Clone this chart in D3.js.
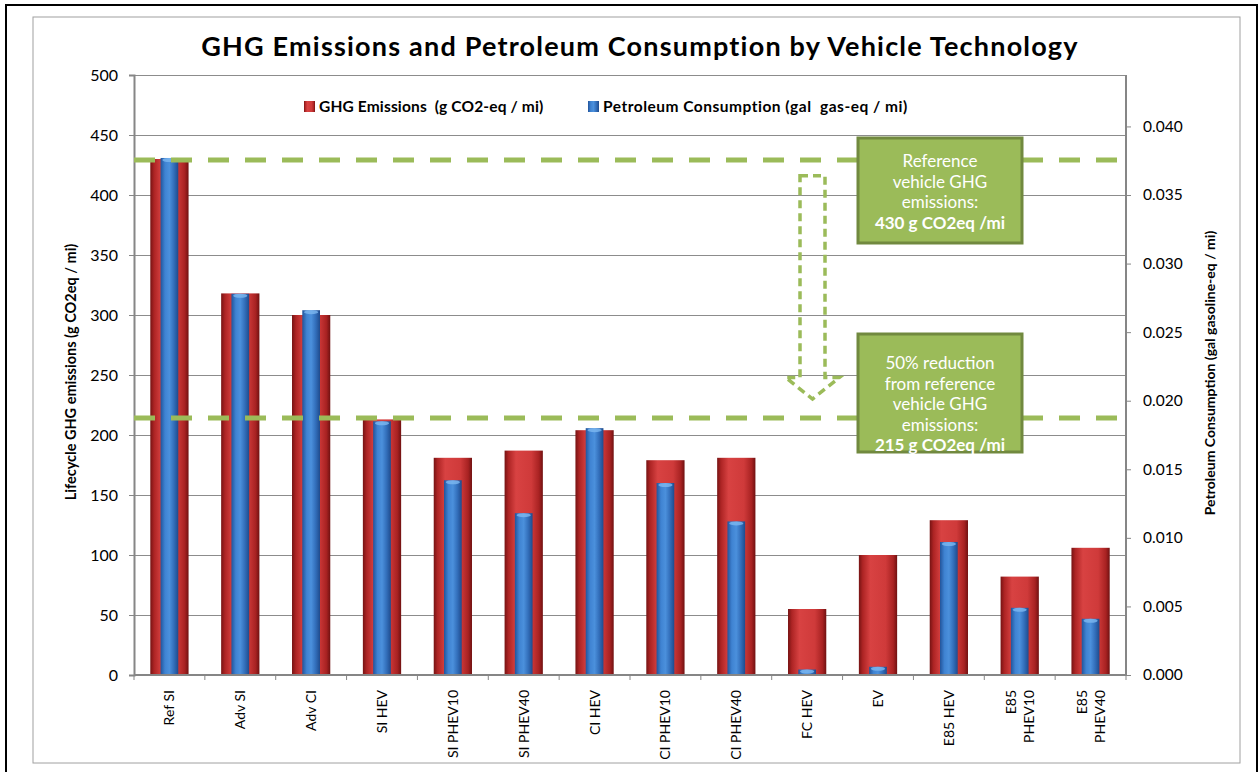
<!DOCTYPE html>
<html>
<head>
<meta charset="utf-8">
<script src="https://cdn.jsdelivr.net/npm/d3@7"></script>
<style>
	body{margin:0;background:#fff}
	text{font-family:Lato,"Open Sans",sans-serif}
</style>
</head>
<body>
<svg id="chart"></svg>
<script>
// chart data
const categories = ['Ref SI','Adv SI','Adv CI','SI HEV','SI PHEV10','SI PHEV40','CI HEV','CI PHEV10','CI PHEV40','FC HEV','EV','E85 HEV','E85 PHEV10','E85 PHEV40']
const tick_labels = [['Ref SI'],['Adv SI'],['Adv CI'],['SI HEV'],['SI PHEV10'],['SI PHEV40'],['CI HEV'],['CI PHEV10'],['CI PHEV40'],['FC HEV'],['EV'],['E85 HEV'],['E85','PHEV10'],['E85','PHEV40']]
const ghg = [430,318,300,213,181,187,204,179,181,55,100,129,82,106]
const petroleum = [0.0377,0.0278,0.0266,0.0185,0.0142,0.0118,0.0180,0.0140,0.0112,0.0004,0.0006,0.0097,0.0049,0.0041]
const left_ticks = [0,50,100,150,200,250,300,350,400,450,500]
const right_ticks = [0,0.005,0.010,0.015,0.020,0.025,0.030,0.035,0.040]
const ref_lines = [430,215]

const _width = 1259
const _height = 772
const plot = {left:134,right:1126,top:75,bottom:675}

const svg = d3.select('#chart')
	.attr('width',_width)
	.attr('height',_height)

// gradients for the cylinder look
const defs = svg.append('defs')
const grad = (id,stops)=>{
	const g = defs.append('linearGradient').attr('id',id)
		.attr('x1','0%').attr('x2','100%').attr('y1','0%').attr('y2','0%')
	stops.forEach(s=>g.append('stop').attr('offset',s[0]).attr('stop-color',s[1]))
}
grad('red_g',[[0,'#761313'],[0.1,'#ad2424'],[0.3,'#d84242'],[0.7,'#cf3a3a'],[0.9,'#a82222'],[1,'#701111']])
grad('blue_g',[[0,'#22549b'],[0.25,'#3f83d2'],[0.5,'#4b90dc'],[0.75,'#336fbb'],[1,'#1f4b8d']])

// frames
svg.append('rect').attr('x',6).attr('y',5).attr('width',1251).attr('height',780)
	.attr('fill','#fff').attr('stroke','#000').attr('stroke-width',2)
svg.append('rect').attr('x',33).attr('y',17).attr('width',1207).attr('height',746)
	.attr('fill','none').attr('stroke','#a0a0a0').attr('stroke-width',1)

// title
svg.append('text')
	.attr('x',640).attr('y',56)
	.attr('text-anchor','middle')
	.attr('font-size',27).attr('font-weight','bold')
	.attr('letter-spacing',1.2)
	.text('GHG Emissions and Petroleum Consumption by Vehicle Technology')

const x = d3.scaleBand().domain(categories).range([plot.left,plot.right])
const yL = d3.scaleLinear().domain([0,500]).range([plot.bottom,plot.top])
const yR = d3.scaleLinear().domain([0,0.04375]).range([plot.bottom,plot.top])
const bw = x.bandwidth()

// gridlines
svg.append('g')
	.selectAll('line')
	.data(left_ticks)
	.enter()
	.append('line')
	.attr('x1',plot.left).attr('x2',plot.right)
	.attr('y1',d=>yL(d)+0.5).attr('y2',d=>yL(d)+0.5)
	.attr('stroke','#8c8c8c').attr('stroke-width',1)

// left axis
const axL = svg.append('g')
	.attr('transform',`translate(${plot.left},0)`)
	.call(d3.axisLeft(yL).tickValues(left_ticks).tickSize(5).tickPadding(11))
axL.select('.domain').attr('stroke','#868686').attr('stroke-width',2)
axL.selectAll('.tick line').attr('stroke','#868686')
axL.selectAll('text').attr('font-size',16).attr('font-family','Lato').attr('fill','#000')

// right axis
const axR = svg.append('g')
	.attr('transform',`translate(${plot.right},0)`)
	.call(d3.axisRight(yR).tickValues(right_ticks).tickFormat(d3.format('.3f')).tickSize(5).tickPadding(12))
axR.select('.domain').attr('stroke','#868686').attr('stroke-width',2)
	.attr('d',`M0,${plot.top}V${plot.bottom}`)
axR.selectAll('.tick line').attr('stroke','#868686')
axR.selectAll('text').attr('font-size',15.5).attr('font-family','Lato').attr('fill','#000')

// bars
const idx = d3.range(categories.length)
svg.append('g')
	.selectAll('rect')
	.data(idx)
	.enter()
	.append('rect')
	.attr('x',i=>x(categories[i])+bw/2-bw*0.27)
	.attr('width',bw*0.54)
	.attr('y',i=>yL(ghg[i]))
	.attr('height',i=>yL(0)-yL(ghg[i]))
	.attr('fill','url(#red_g)')

const blue = svg.append('g')
	.selectAll('g')
	.data(idx)
	.enter()
	.append('g')
blue.append('rect')
	.attr('x',i=>x(categories[i])+bw/2-bw*0.125)
	.attr('width',bw*0.25)
	.attr('y',i=>yR(petroleum[i]))
	.attr('height',i=>yR(0)-yR(petroleum[i]))
	.attr('fill','url(#blue_g)')
blue.append('ellipse')
	.attr('cx',i=>x(categories[i])+bw/2)
	.attr('cy',i=>yR(petroleum[i])+2)
	.attr('rx',bw*0.1)
	.attr('ry',2)
	.attr('fill','#7db8f0')
	.attr('opacity',0.8)

// bottom axis
svg.append('line')
	.attr('x1',plot.left).attr('x2',plot.right)
	.attr('y1',plot.bottom).attr('y2',plot.bottom)
	.attr('stroke','#868686').attr('stroke-width',2)
svg.append('g')
	.selectAll('line')
	.data(categories.concat(['__end']))
	.enter()
	.append('line')
	.attr('x1',d=>d=='__end' ? plot.right : x(d))
	.attr('x2',d=>d=='__end' ? plot.right : x(d))
	.attr('y1',plot.bottom).attr('y2',plot.bottom+5)
	.attr('stroke','#868686')

const labels = svg.append('g')
	.selectAll('text')
	.data(idx)
	.enter()
	.append('text')
	.attr('transform',i=>`translate(${x(categories[i])+bw/2},690) rotate(-90)`)
	.attr('text-anchor','end')
	.attr('font-size',14)
labels.each(function(i){
	const lines = tick_labels[i]
	const t = d3.select(this)
	lines.forEach((l,j)=>{
		t.append('tspan')
			.attr('x',0)
			.attr('y',(j - (lines.length-1)/2)*18 + 5)
			.text(l)
	})
})

// axis titles
svg.append('text')
	.attr('transform',`translate(76,372) rotate(-90)`)
	.attr('text-anchor','middle')
	.attr('font-size',14.5).attr('font-weight','bold')
	.text('Lifecycle GHG emissions (g CO2eq / mi)')
svg.append('text')
	.attr('transform',`translate(1215,373) rotate(-90)`)
	.attr('text-anchor','middle')
	.attr('font-size',14).attr('font-weight','bold')
	.text('Petroleum Consumption (gal gasoline-eq / mi)')

// legend
const legend = [
	{name:'GHG Emissions  (g CO2-eq / mi)',fill:'url(#red_g)',x:304,ls:0.15},
	{name:'Petroleum Consumption (gal  gas-eq / mi)',fill:'url(#blue_g)',x:588,ls:0.5}
]
const legendG = svg.selectAll('.legend')
	.data(legend)
	.enter()
	.append('g')
	.classed('legend',true)
	.attr('transform',d=>`translate(${d.x},101)`)
legendG.append('rect')
	.attr('width',11).attr('height',11)
	.attr('fill',d=>d.fill)
legendG.append('text')
	.attr('x',15).attr('y',11)
	.attr('font-size',15.5).attr('font-weight','bold')
	.attr('letter-spacing',d=>d.ls)
	.style('white-space','pre')
	.text(d=>d.name)

// reference dashed lines
svg.append('g')
	.selectAll('line')
	.data(ref_lines)
	.enter()
	.append('line')
	.attr('x1',plot.left).attr('x2',plot.right)
	.attr('y1',d=>yL(d)+1).attr('y2',d=>yL(d)+1)
	.attr('stroke','#9bbb59').attr('stroke-width',5)
	.attr('stroke-dasharray','21,16')

// dashed down arrow
const ax = 812.5
const arrow = d3.path()
arrow.moveTo(ax-12.5,yL(416))
arrow.lineTo(ax+12.5,yL(416))
arrow.lineTo(ax+12.5,yL(248))
arrow.lineTo(ax+27,yL(248))
arrow.lineTo(ax,yL(230))
arrow.lineTo(ax-27,yL(248))
arrow.lineTo(ax-12.5,yL(248))
arrow.closePath()
svg.append('path')
	.attr('d',arrow.toString())
	.attr('fill','none')
	.attr('stroke','#9bbb59').attr('stroke-width',3.5)
	.attr('stroke-dasharray','8,5')

// callout boxes
const boxes = [
	{x:858,y:138,w:164,h:105,lines:['Reference','vehicle GHG','emissions:','430 g CO2eq /mi'],ty:161},
	{x:858,y:334,w:164,h:118,lines:['50% reduction','from reference','vehicle GHG','emissions:','215 g CO2eq /mi'],ty:363}
]
const boxG = svg.selectAll('.box')
	.data(boxes)
	.enter()
	.append('g')
	.classed('box',true)
boxG.append('rect')
	.attr('x',d=>d.x).attr('y',d=>d.y)
	.attr('width',d=>d.w).attr('height',d=>d.h)
	.attr('fill','#9bbb59')
	.attr('stroke','#71893f').attr('stroke-width',3)
boxG.each(function(d){
	const g = d3.select(this)
	d.lines.forEach((l,j)=>{
		g.append('text')
			.attr('x',d.x+d.w/2)
			.attr('y',d.ty+j*20.6+6)
			.attr('text-anchor','middle')
			.attr('font-size',17)
			.attr('fill','#fff')
			.attr('font-weight',j==d.lines.length-1 ? 'bold' : 'normal')
			.text(l)
	})
})
</script>
</body>
</html>
